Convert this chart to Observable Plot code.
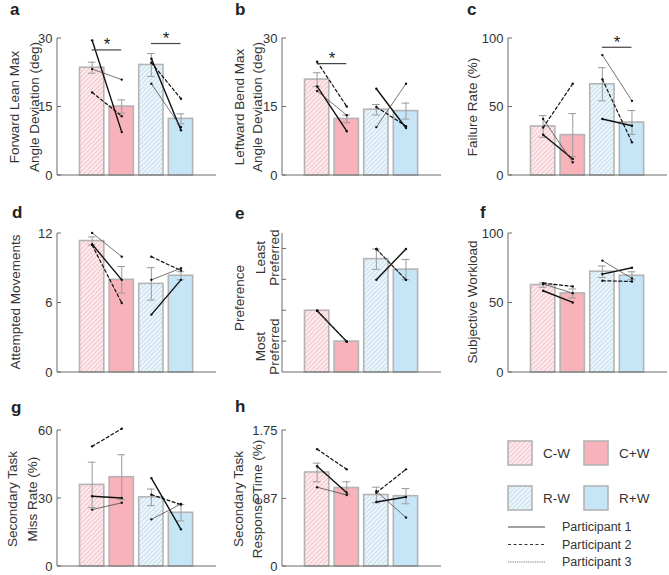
<!DOCTYPE html>
<html><head><meta charset="utf-8">
<script src="https://cdn.jsdelivr.net/npm/d3@7"></script>
<script src="https://cdn.jsdelivr.net/npm/@observablehq/plot@0.6"></script>
<style>
body{margin:0;background:#fff;font-family:"Liberation Sans",Arial,sans-serif;}
#fig{position:relative;width:669px;height:575px;overflow:hidden;background:#fff;}
.panel{position:absolute;}
.ylab{position:absolute;transform:translate(-50%,-50%) rotate(-90deg);white-space:nowrap;text-align:center;font-size:13.5px;color:#333;line-height:19px;}
.letter{position:absolute;font-weight:bold;font-size:17px;line-height:18px;color:#222;}
</style></head><body>
<svg width="0" height="0" style="position:absolute">
<defs>
<pattern id="hatchPink" patternUnits="userSpaceOnUse" width="3.2" height="3.2" patternTransform="rotate(45)">
<rect width="3.2" height="3.2" fill="#fde8eb"/><line x1="0" y1="0" x2="0" y2="3.2" stroke="#e9a2ab" stroke-width="0.9"/>
</pattern>
<pattern id="hatchBlue" patternUnits="userSpaceOnUse" width="3.2" height="3.2" patternTransform="rotate(45)">
<rect width="3.2" height="3.2" fill="#eaf5fb"/><line x1="0" y1="0" x2="0" y2="3.2" stroke="#9fc6dd" stroke-width="0.9"/>
</pattern>
</defs></svg>
<div id="fig"></div>
<script>
// ---------- data ----------
const conditions = ["C-W", "C+W", "R-W", "R+W"];
const participants = ["Participant 1", "Participant 2", "Participant 3"];

// a: Forward lean
const aMean = [23.6, 15.1, 24.2, 12.4];
const aSE   = [1.2, 1.45, 2.5, 1.1];
const aP1 = [29.6, 9.5, 25.6, 9.9];
const aP2 = [18.2, 13.0, 24.7, 16.8];
const aP3 = [23.3, 21.0, 20.1, 10.6];
const aTicks = [0, 15, 30];
const aSig = [{a: 0, b: 1, y: 27.5}, {a: 2, b: 3, y: 28.9}];

// b: Leftward bend
const bMean = [21.0, 12.4, 14.4, 14.1];
const bSE   = [1.5, 0.85, 1.15, 1.75];
const bP1 = [19.5, 9.7, 19.0, 10.4];
const bP2 = [24.9, 15.1, 15.0, 10.8];
const bP3 = [18.5, 13.2, 10.6, 20.1];
const bTicks = [0, 15, 30];
const bSig = [{a: 0, b: 1, y: 24.5}];

// c: Failure rate
const cMean = [35.8, 29.5, 66.6, 38.7];
const cSE   = [7.9, 15.7, 12.1, 8.7];
const cP1 = [29.8, 12.1, 41.2, 36.3];
const cP2 = [35.0, 67.0, 70.2, 24.2];
const cP3 = [41.2, 9.7, 87.9, 54.5];
const cTicks = [0, 50, 100];
const cSig = [{a: 2, b: 3, y: 93.6}];

// d: Attempted movements
const dMean = [11.35, 8.0, 7.65, 8.35];
const dSE   = [0.35, 1.15, 1.4, 0.35];
const dP1 = [11.07, 8.0, 5.0, 8.0];
const dP2 = [11.0, 6.0, 10.0, 8.8];
const dP3 = [12.05, 10.0, 8.0, 9.0];
const dTicks = [0, 6, 12];

// e: Preference (rank, 1 = most preferred, 4 = least preferred)
const eMean = [2, 1, 3.67, 3.33];
const eSE   = [0, 0, 0.33, 0.33];
const eP1 = [2, 1, 3, 4];
const eP2 = [2, 1, 4, 3];
const eP3 = [2, 1, 4, 3];
const eTicks = [1, 2, 3, 4];
const eTickLabels = [{v: 3.72, t: "Least\nPreferred"}, {v: 0.84, t: "Most\nPreferred"}];

// f: Subjective workload
const fMean = [62.9, 56.9, 72.5, 69.6];
const fSE   = [1.6, 3.2, 4.1, 2.85];
const fP1 = [58.8, 50.4, 70.8, 75.4];
const fP2 = [64.3, 61.9, 66.0, 65.5];
const fP3 = [63.6, 57.1, 80.5, 67.7];
const fTicks = [0, 50, 100];

// g: Secondary task miss rate
const gMean = [36.0, 39.4, 30.5, 23.7];
const gSE   = [10.0, 9.9, 3.65, 3.6];
const gP1 = [31.0, 30.2, 39.0, 16.4];
const gP2 = [53.0, 60.8, 31.7, 27.3];
const gP3 = [25.1, 28.1, 20.8, 27.6];
const gTicks = [0, 30, 60];

// h: Secondary task response time
const hMean = [1.21, 1.01, 0.92, 0.905];
const hSE   = [0.12, 0.08, 0.10, 0.098];
const hP1 = [1.29, 0.95, 0.83, 0.894];
const hP2 = [1.51, 1.25, 0.95, 1.25];
const hP3 = [1.02, 0.92, 0.97, 0.63];
const hTicks = [0, 0.87, 1.75];

// ---------- styles ----------
const FILLS = ["url(#hatchPink)", "#f7b2ba", "url(#hatchBlue)", "#c6e6f8"];
const LINESTYLES = [
  {stroke: "#111", strokeWidth: 1.4, strokeDasharray: null},
  {stroke: "#111", strokeWidth: 1.2, strokeDasharray: "3,2.5"},
  {stroke: "#444", strokeWidth: 0.8, strokeDasharray: "1,0.8"}
];
const COLS = [{left: 0, axis: 57}, {left: 220, axis: 282}, {left: 440, axis: 508}];
const ROWS = [{top: 38, bottom: 175, mb: 4}, {top: 233, bottom: 372, mb: 4}, {top: 430, bottom: 566, mb: 7}];
const FW = 159;

const fig = document.getElementById("fig");

function axisFrame(ticks) {
  return (index, scales, values, dims) => {
    const g = d3.create("svg:g");
    const x0 = dims.marginLeft, x1 = dims.width - dims.marginRight;
    const yb = dims.height - dims.marginBottom, yt = dims.marginTop;
    g.append("path").attr("d", `M${x0},${yt}V${yb}H${x1}`).attr("fill", "none").attr("stroke", "#6a6a6a").attr("stroke-width", 1);
    for (const t of ticks) {
      const y = scales.y(t);
      g.append("line").attr("x1", x0).attr("x2", x0 + 4).attr("y1", y).attr("y2", y).attr("stroke", "#6a6a6a");
    }
    return g.node();
  };
}

function makePanel({col, row, mean, se, parts, domain, ticks, sig = [], tickFormat, extraLabels}) {
  const C = COLS[col], R = ROWS[row];
  const ml = C.axis - C.left, mt = 12, mb = R.mb, mr = 2;
  const rows = conditions.map((c, i) => ({i, c, m: mean[i], lo: mean[i] - se[i], hi: mean[i] + se[i], se: se[i]}));
  const errs = rows.filter(d => d.se > 0);
  const marks = [];
  rows.forEach(r => marks.push(Plot.rectY([r], {x1: d => d.i - 0.41, x2: d => d.i + 0.41, y1: 0, y2: "m", fill: FILLS[r.i], stroke: "#b4b4b4", strokeWidth: 1.6})));
  marks.push(Plot.ruleX(errs, {x: "i", y1: "lo", y2: "hi", stroke: "#9a9a9a", strokeWidth: 1}));
  marks.push(Plot.ruleY(errs, {y: "hi", x1: d => d.i - 0.13, x2: d => d.i + 0.13, stroke: "#9a9a9a", strokeWidth: 1}));
  marks.push(Plot.ruleY(errs, {y: "lo", x1: d => d.i - 0.13, x2: d => d.i + 0.13, stroke: "#9a9a9a", strokeWidth: 1}));
  parts.forEach((vals, pi) => {
    const pts = [];
    [[0, 1], [2, 3]].forEach(([a, b]) => {
      pts.push({g: a, i: a, v: vals[a]});
      pts.push({g: a, i: b, v: vals[b]});
    });
    marks.push(Plot.line(pts, {x: "i", y: "v", z: "g", ...LINESTYLES[pi]}));
    marks.push(Plot.dot(pts, {x: "i", y: "v", r: 1.2, fill: "#111", stroke: null}));
  });
  if (sig.length) {
    marks.push(Plot.ruleY(sig, {y: "y", x1: "a", x2: "b", stroke: "#444", strokeWidth: 1.2}));
    marks.push(Plot.text(sig, {x: d => (d.a + d.b) / 2, y: "y", text: () => "*", dy: -5, fontSize: 17, fill: "#222"}));
  }
  marks.push(Plot.axisY({ticks, tickSize: 0, tickPadding: 5, label: null, fontSize: 13, tickFormat: tickFormat || (d => String(d))}));
  if (extraLabels) {
    marks.push(Plot.text(extraLabels, {y: "v", text: "t", frameAnchor: "left", textAnchor: "middle", lineAnchor: "middle", dx: -15, rotate: -90, fontSize: 13.5, fill: "#333", lineHeight: 1.0}));
  }
  marks.push(axisFrame(ticks));
  const svg = Plot.plot({
    width: ml + FW + mr, height: mt + (R.bottom - R.top) + mb,
    marginLeft: ml, marginRight: mr, marginTop: mt, marginBottom: mb,
    x: {domain: [-1.17, 4.2], axis: null},
    y: {domain},
    style: {fontFamily: "'Liberation Sans', Arial, sans-serif", color: "#333", background: "transparent", overflow: "visible"},
    marks
  });
  svg.classList.add("panel");
  svg.style.left = C.left + "px";
  svg.style.top = (R.top - mt) + "px";
  fig.appendChild(svg);
}

function ylab(lines, cx, cy, lh = 19) {
  const d = document.createElement("div");
  d.className = "ylab";
  d.style.left = cx + "px"; d.style.top = cy + "px"; d.style.lineHeight = lh + "px";
  d.innerHTML = lines.join("<br>");
  fig.appendChild(d);
}
function letter(t, x, y) {
  const d = document.createElement("div");
  d.className = "letter"; d.textContent = t;
  d.style.left = x + "px"; d.style.top = y + "px";
  fig.appendChild(d);
}

makePanel({col: 0, row: 0, mean: aMean, se: aSE, parts: [aP1, aP2, aP3], domain: [0, 30], ticks: aTicks, sig: aSig});
makePanel({col: 1, row: 0, mean: bMean, se: bSE, parts: [bP1, bP2, bP3], domain: [0, 30], ticks: bTicks, sig: bSig});
makePanel({col: 2, row: 0, mean: cMean, se: cSE, parts: [cP1, cP2, cP3], domain: [0, 100], ticks: cTicks, sig: cSig});
makePanel({col: 0, row: 1, mean: dMean, se: dSE, parts: [dP1, dP2, dP3], domain: [0, 12], ticks: dTicks});
makePanel({col: 1, row: 1, mean: eMean, se: eSE, parts: [eP1, eP2, eP3], domain: [0, 4.5], ticks: eTicks, tickFormat: () => "", extraLabels: eTickLabels});
makePanel({col: 2, row: 1, mean: fMean, se: fSE, parts: [fP1, fP2, fP3], domain: [0, 100], ticks: fTicks});
makePanel({col: 0, row: 2, mean: gMean, se: gSE, parts: [gP1, gP2, gP3], domain: [0, 60], ticks: gTicks});
makePanel({col: 1, row: 2, mean: hMean, se: hSE, parts: [hP1, hP2, hP3], domain: [0, 1.75], ticks: hTicks});

// axis titles
ylab(["Forward Lean Max", "Angle Deviation (deg)"], 25, 106.5, 20);
ylab(["Leftward Bend Max", "Angle Deviation (deg)"], 249, 106.5, 18);
ylab(["Failure Rate (%)"], 472, 106.5);
ylab(["Attempted Movements"], 15, 302);
ylab(["Preference"], 239, 298);
ylab(["Subjective Workload"], 472, 302);
ylab(["Secondary Task", "Miss Rate (%)"], 23, 498.5, 20);
ylab(["Secondary Task", "Response Time (%)"], 247.5, 498.5, 19);

// panel letters
letter("a", 10, 1); letter("b", 235, 1); letter("c", 467, 1);
letter("d", 12, 204); letter("e", 235, 205); letter("f", 480, 204);
letter("g", 11, 399); letter("h", 235, 398);

// legend
const leg = d3.create("svg").attr("width", 169).attr("height", 145)
  .style("position", "absolute").style("left", "500px").style("top", "430px")
  .style("font-family", "'Liberation Sans', Arial, sans-serif");
const swatchPos = [{x: 8, y: 11}, {x: 84, y: 11}, {x: 8, y: 56}, {x: 84, y: 56}];
conditions.forEach((c, i) => {
  const p = swatchPos[i];
  leg.append("rect").attr("x", p.x).attr("y", p.y).attr("width", 24).attr("height", 24)
    .attr("fill", FILLS[i]).attr("stroke", "#b4b4b4").attr("stroke-width", 1.6);
  leg.append("text").attr("x", p.x + 35).attr("y", p.y + 12).attr("dy", "0.35em")
    .attr("font-size", 13.5).attr("fill", "#333").text(c);
});
participants.forEach((p, i) => {
  const y = 97 + i * 17.5;
  leg.append("line").attr("x1", 8).attr("x2", 45).attr("y1", y).attr("y2", y)
    .attr("stroke", i === 2 ? "#777" : (i === 1 ? "#333" : "#444")).attr("stroke-width", i === 0 ? 1.2 : 1)
    .attr("stroke-dasharray", i === 1 ? "3,2.5" : (i === 2 ? "1,0.8" : null));
  leg.append("text").attr("x", 62).attr("y", y).attr("dy", "0.35em")
    .attr("font-size", 12.5).attr("fill", "#333").text(p);
});
fig.appendChild(leg.node());
</script>
</body></html>
